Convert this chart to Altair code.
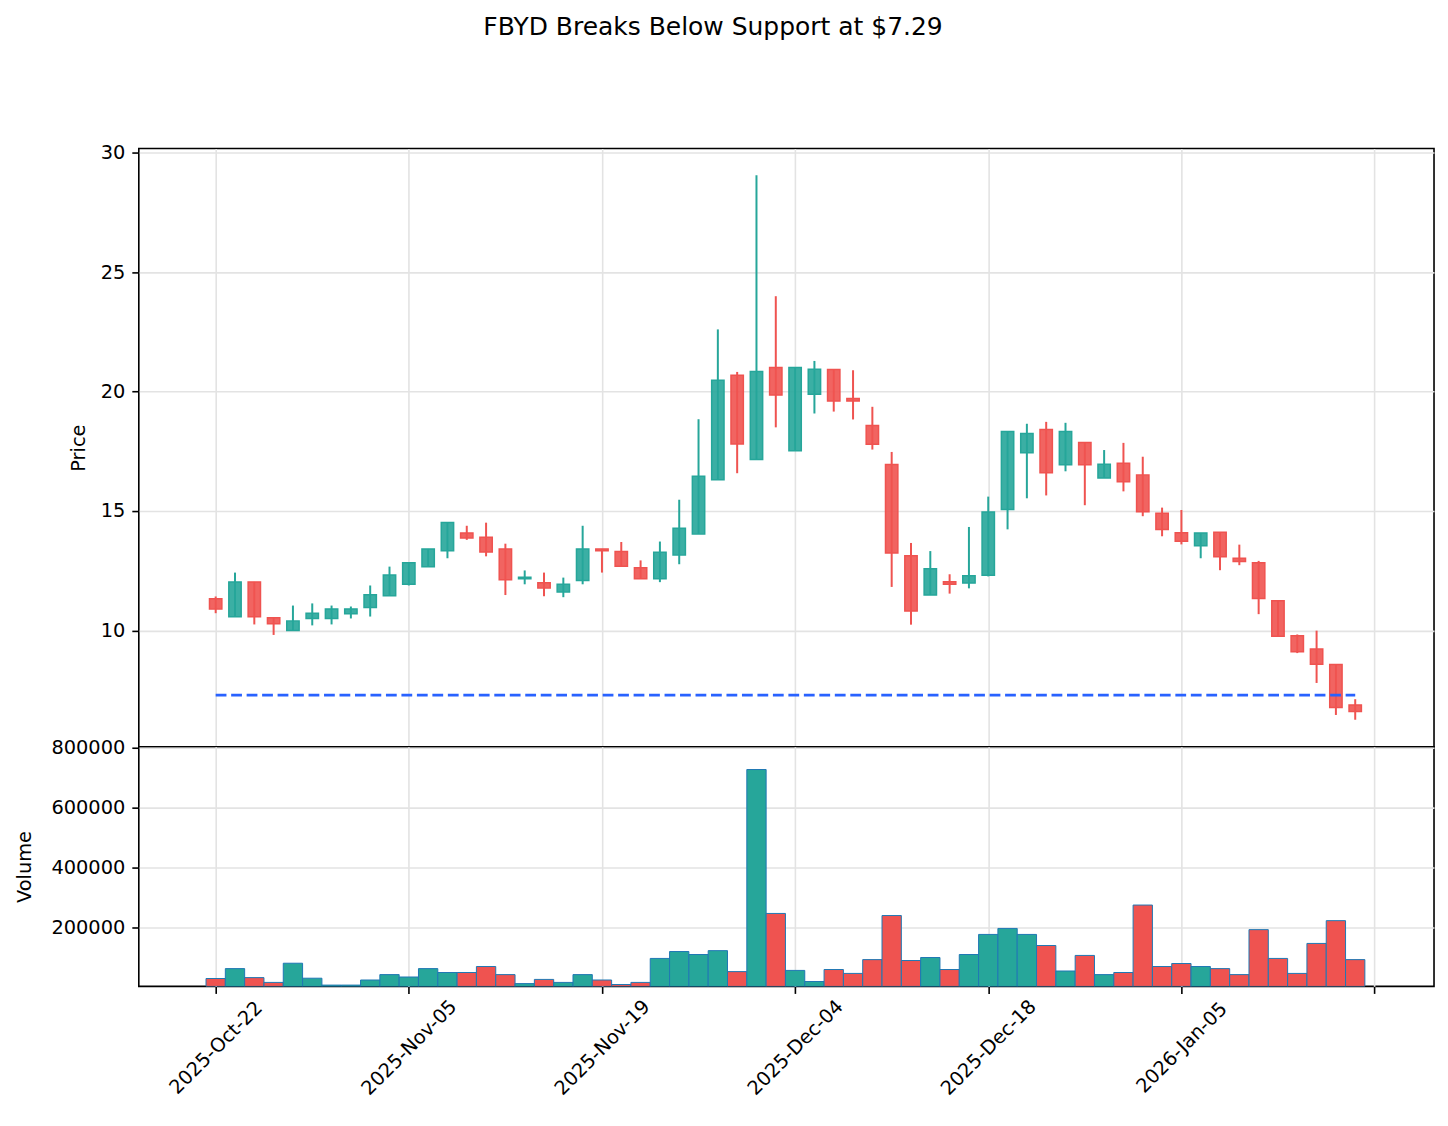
import altair as alt
import pandas as pd

# ---------------- data ----------------
opens = [11.32, 10.57, 12.03, 10.53, 10.00, 10.50, 10.50, 10.70, 10.96, 11.45,
         11.93, 12.66, 13.33, 14.08, 13.90, 13.41, 12.16, 11.99, 11.61, 12.09,
         13.41, 13.30, 12.62, 12.16, 13.16, 14.04, 16.31, 20.68, 17.15, 21.00,
         17.52, 19.89, 20.92, 19.71, 18.58, 16.94, 13.13, 11.48, 12.04, 11.98,
         12.31, 15.06, 17.44, 18.41, 16.93, 17.87, 16.38, 17.00, 16.50, 14.90,
         14.09, 13.54, 14.11, 13.02, 12.83, 11.24, 9.78, 9.22, 8.57, 6.88]
highs = [11.42, 12.42, 12.03, 10.53, 11.04, 11.13, 11.04, 11.00, 11.88, 12.67,
         12.83, 13.41, 14.52, 14.38, 14.51, 13.63, 12.51, 12.42, 12.21, 14.38,
         13.41, 13.70, 12.93, 13.72, 15.47, 18.84, 22.60, 20.82, 29.05, 23.99,
         21.00, 21.28, 20.92, 20.89, 19.36, 17.47, 13.66, 13.32, 12.35, 14.33,
         15.60, 18.33, 18.65, 18.73, 18.69, 17.87, 17.55, 17.85, 17.27, 15.14,
         15.04, 14.08, 14.11, 13.59, 12.91, 11.24, 9.83, 9.99, 8.57, 7.12]
lows = [10.72, 10.57, 10.25, 9.81, 10.00, 10.21, 10.25, 10.50, 10.58, 11.45,
        11.88, 12.66, 13.02, 13.79, 13.10, 11.48, 11.93, 11.43, 11.39, 11.93,
        12.42, 12.69, 12.16, 12.02, 12.77, 14.04, 16.31, 16.58, 17.15, 18.50,
        17.52, 19.08, 19.16, 18.83, 17.57, 11.82, 10.24, 11.48, 11.54, 11.76,
        12.26, 14.23, 15.53, 15.65, 16.66, 15.24, 16.38, 15.82, 14.78, 13.94,
        13.60, 13.02, 12.52, 12.73, 10.68, 9.75, 9.05, 7.80, 6.46, 6.26]
closes = [10.90, 12.03, 10.57, 10.28, 10.39, 10.72, 10.90, 10.90, 11.49, 12.32,
          12.83, 13.41, 14.52, 13.87, 13.28, 12.12, 12.23, 11.78, 11.93, 13.41,
          13.33, 12.69, 12.16, 13.27, 14.28, 16.45, 20.47, 17.80, 20.84, 19.85,
          21.00, 20.93, 19.60, 19.60, 17.79, 13.24, 10.81, 12.58, 11.93, 12.29,
          14.96, 18.33, 18.24, 16.60, 18.33, 16.93, 16.96, 16.22, 14.97, 14.22,
          13.73, 14.08, 13.08, 12.88, 11.34, 9.75, 9.11, 8.58, 6.77, 6.60]
volumes = [31000, 64000, 34000, 18000, 82000, 32000, 9000, 9000, 26000, 44000,
           36000, 64000, 51000, 51000, 71000, 44000, 14000, 28000, 18000, 44000,
           26000, 11000, 18000, 98000, 121000, 111000, 124000, 54000, 728000, 248000,
           58000, 21000, 61000, 48000, 94000, 241000, 91000, 101000, 61000, 111000,
           178000, 198000, 178000, 141000, 56000, 108000, 44000, 51000, 276000, 71000,
           81000, 71000, 64000, 44000, 194000, 98000, 48000, 148000, 224000, 94000]

tick_positions = [0, 10, 20, 30, 40, 50, 60]
tick_labels = ["2025-Oct-22", "2025-Nov-05", "2025-Nov-19", "2025-Dec-04",
               "2025-Dec-18", "2026-Jan-05", ""]
price_ticks = [10, 15, 20, 25, 30]
volume_ticks = [200000, 400000, 600000, 800000]
support_level = 7.29
title_text = "FBYD Breaks Below Support at $7.29"

# ---------------- styling ----------------
UP = "#26a69a"
DOWN = "#ef5350"
FONT = "DejaVu Sans"
FS = 19.4
GRID = "#e3e3e3"

n = len(closes)
df = pd.DataFrame({
    "idx": list(range(n)),
    "open": opens, "high": highs, "low": lows, "close": closes,
    "volume": volumes,
})
df["dir"] = ["up" if c >= o else "down" for o, c in zip(opens, closes)]
df["bx0"] = df["idx"] - 0.32
df["bx1"] = df["idx"] + 0.32
df["vx0"] = df["idx"] - 0.5
df["vx1"] = df["idx"] + 0.5

x_dom = [-3.98, 63.08]
p_dom = [5.13, 30.17]
v_dom = [4667, 804000]
df["vbase"] = v_dom[0]

xscale = alt.Scale(domain=x_dom, nice=False, zero=False)
pscale = alt.Scale(domain=p_dom, nice=False, zero=False)
vscale = alt.Scale(domain=v_dom, nice=False, zero=False)
cscale = alt.Scale(domain=["up", "down"], range=[UP, DOWN])

label_expr = ""
for p, l in zip(tick_positions, tick_labels):
    label_expr += f"datum.value == {p} ? '{l}' : "
label_expr += "''"

W = 1297
H_P = 599
H_V = 240

top_x_axis = alt.Axis(values=tick_positions, labels=False, ticks=False,
                      domain=False, grid=True, title=None)
price_axis = alt.Axis(values=price_ticks, format="d", grid=True, domain=False,
                      tickSize=7, tickWidth=1.6, tickColor="black",
                      labelPadding=7, title="Price", titleX=-60, titleY=H_P / 2,
                      titleAngle=270, titleBaseline="middle", titleAlign="center")

base = alt.Chart(df)
wicks = base.mark_rule(strokeWidth=2).encode(
    x=alt.X("idx:Q", scale=xscale, axis=top_x_axis),
    y=alt.Y("low:Q", scale=pscale, axis=price_axis),
    y2="high:Q",
    color=alt.Color("dir:N", scale=cscale, legend=None),
)
bodies = base.mark_bar(fillOpacity=0.9, strokeWidth=1.5).encode(
    x=alt.X("bx0:Q", scale=xscale),
    x2="bx1:Q",
    y=alt.Y("open:Q", scale=pscale),
    y2="close:Q",
    fill=alt.Fill("dir:N", scale=cscale, legend=None),
    stroke=alt.Stroke("dir:N", scale=cscale, legend=None),
)
sup_df = pd.DataFrame({"x0": [0], "x1": [n - 1], "level": [support_level]})
support = alt.Chart(sup_df).mark_rule(color="#2962FF", strokeWidth=2.9,
                                      strokeDash=[10.8, 4.7]).encode(
    x=alt.X("x0:Q", scale=xscale),
    x2="x1:Q",
    y=alt.Y("level:Q", scale=pscale),
)
title_df = pd.DataFrame({"t": [title_text]})
title = alt.Chart(title_df).mark_text(font=FONT, fontSize=25, color="black",
                                      align="center", baseline="middle").encode(
    x=alt.value(575), y=alt.value(-122), text="t:N")

price_panel = alt.layer(wicks, bodies, support, title).properties(width=W, height=H_P)

bottom_x_axis = alt.Axis(values=tick_positions, labelExpr=label_expr, grid=True,
                         domain=False, tickSize=7, tickWidth=1.6, tickColor="black",
                         labelAngle=-45, labelAlign="center", labelBaseline="middle",
                         labelPadding=54, labelOffset=0, title=None)
vol_axis = alt.Axis(values=volume_ticks, format="d", grid=True, domain=False,
                    tickSize=7, tickWidth=1.6, tickColor="black", labelPadding=7,
                    title="Volume", titleX=-114, titleY=H_V / 2, titleAngle=270,
                    titleBaseline="middle", titleAlign="center")

vol = base.mark_bar(stroke="#1f77b4", strokeWidth=1, clip=True).encode(
    x=alt.X("vx0:Q", scale=xscale, axis=bottom_x_axis),
    x2="vx1:Q",
    y=alt.Y("volume:Q", scale=vscale, axis=vol_axis),
    y2="vbase:Q",
    fill=alt.Fill("dir:N", scale=cscale, legend=None),
)
vol_panel = vol.properties(width=W, height=H_V)

chart = alt.vconcat(price_panel, vol_panel, spacing=0, bounds="flush").properties(
    padding={"left": 14, "top": 13, "right": 13, "bottom": 14},
    background="white",
).configure_view(
    stroke="black", strokeWidth=1.6
).configure_axis(
    labelFont=FONT, titleFont=FONT, labelFontSize=FS, titleFontSize=FS,
    labelColor="black", titleColor="black", titleFontWeight="normal",
    gridColor=GRID, gridWidth=1.6,
)

chart.save("out.html", embed_options={"renderer": "svg", "actions": False})
